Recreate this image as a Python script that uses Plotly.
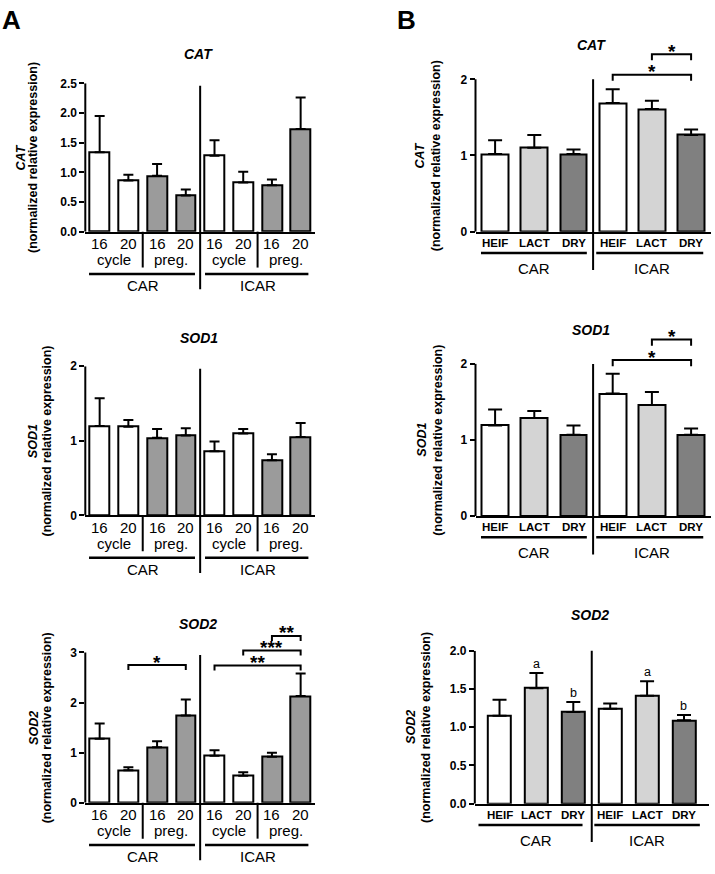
import plotly.graph_objects as go

W, H = 715, 874
FONT = "Liberation Sans, Arial, sans-serif"

# ---------------- data ----------------
A_dpo = ["16", "20", "16", "20", "16", "20", "16", "20"]
A_state = ["cycle", "preg.", "cycle", "preg."]
A_groups = ["CAR", "ICAR"]
A_colors = ["white", "white", "#9b9b9b", "#9b9b9b"] * 2

A_CAT_mean = [1.34, 0.86, 0.94, 0.61, 1.28, 0.83, 0.78, 1.73]
A_CAT_err = [0.61, 0.10, 0.20, 0.10, 0.26, 0.18, 0.10, 0.53]
A_SOD1_mean = [1.20, 1.19, 1.04, 1.07, 0.86, 1.10, 0.74, 1.05]
A_SOD1_err = [0.37, 0.09, 0.12, 0.10, 0.13, 0.06, 0.08, 0.19]
A_SOD2_mean = [1.28, 0.65, 1.11, 1.74, 0.94, 0.54, 0.92, 2.13]
A_SOD2_err = [0.30, 0.06, 0.12, 0.32, 0.11, 0.07, 0.08, 0.45]
A_SOD2_sig = [(1, 3, "*"), (4, 7, "**"), (5, 7, "***"), (6, 7, "**")]

B_cats = ["HEIF", "LACT", "DRY", "HEIF", "LACT", "DRY"]
B_groups = ["CAR", "ICAR"]
B_colors = ["white", "#d4d4d4", "#808080"] * 2

B_CAT_mean = [1.02, 1.10, 1.02, 1.69, 1.61, 1.27]
B_CAT_err = [0.18, 0.17, 0.06, 0.18, 0.11, 0.07]
B_CAT_sig = [(3, 5, "*"), (4, 5, "*")]
B_SOD1_mean = [1.19, 1.29, 1.07, 1.61, 1.46, 1.07]
B_SOD1_err = [0.21, 0.09, 0.12, 0.26, 0.17, 0.08]
B_SOD1_sig = [(3, 5, "*"), (4, 5, "*")]
B_SOD2_mean = [1.15, 1.51, 1.20, 1.24, 1.41, 1.09]
B_SOD2_err = [0.21, 0.20, 0.13, 0.07, 0.19, 0.07]
B_SOD2_letters = ["", "a", "b", "", "a", "b"]

# ---------------- helpers ----------------
def py(p):
    return 1 - p / H

def px(p):
    return p / W

panels = [
    dict(kind="A", gene="CAT", mean=A_CAT_mean, err=A_CAT_err, sig=[], sigy=[],
         x0=85.3, x1=315.0, xr=[-0.5, 7.5], y0=228.3, unit=60.3, axmax=2.5, ytop=2.5,
         ticks=[0, 0.5, 1.0, 1.5, 2.0, 2.5], fmt=".1f", title=(198, 48), ytx=(21, 33.5)),
    dict(kind="A", gene="SOD1", mean=A_SOD1_mean, err=A_SOD1_err, sig=[], sigy=[],
         x0=85.3, x1=315.0, xr=[-0.5, 7.5], y0=516.7, unit=75.8, axmax=2, ytop=2,
         ticks=[0, 1, 2], fmt="d", title=(198.7, 336.7), ytx=(33.3, 46.7)),
    dict(kind="A", gene="SOD2", mean=A_SOD2_mean, err=A_SOD2_err, sig=A_SOD2_sig,
         sigy=[2.75, 2.74, 3.04, 3.33], drop=0.1,
         x0=85.3, x1=315.0, xr=[-0.5, 7.5], y0=808.7, unit=50.9, axmax=3, ytop=3.6,
         ticks=[0, 1, 2, 3], fmt="d", title=(198, 626.7), ytx=(33.3, 46.7)),
    dict(kind="B", gene="CAT", mean=B_CAT_mean, err=B_CAT_err, sig=B_CAT_sig,
         sigy=[2.06, 2.33], drop=0.08,
         x0=475.5, x1=710.7, xr=[-0.5, 5.5], y0=228.3, unit=77.4, axmax=2, ytop=2.55,
         ticks=[0, 1, 2], fmt="d", title=(591, 38.3), ytx=(420, 436.7)),
    dict(kind="B", gene="SOD1", mean=B_SOD1_mean, err=B_SOD1_err, sig=B_SOD1_sig,
         sigy=[2.05, 2.32], drop=0.08,
         x0=475.5, x1=710.7, xr=[-0.5, 5.5], y0=517.3, unit=77.3, axmax=2, ytop=2.55,
         ticks=[0, 1, 2], fmt="d", title=(591, 328.3), ytx=(421.7, 437.7)),
    dict(kind="B", gene="SOD2", mean=B_SOD2_mean, err=B_SOD2_err, sig=[], sigy=[],
         letters=B_SOD2_letters,
         x0=474.8, x1=708.7, xr=[-0.67, 5.67], y0=809.7, unit=77.75, axmax=2, ytop=2.0,
         ticks=[0, 0.5, 1.0, 1.5, 2.0], fmt=".1f", title=(590, 618.3), ytx=(411.7, 426.7)),
]

fig = go.Figure()
layout = {}
shapes = []
annos = []

def line(xref, yref, x0, y0, x1, y1, w=2):
    shapes.append(dict(type="line", xref=xref, yref=yref, x0=x0, y0=y0, x1=x1, y1=y1,
                       line=dict(color="black", width=w)))

def text(xref, yref, x, y, t, size, xanchor="center", yanchor="middle", angle=0, yshift=0):
    annos.append(dict(xref=xref, yref=yref, x=x, y=y, text=t, showarrow=False,
                      xanchor=xanchor, yanchor=yanchor, textangle=angle, yshift=yshift,
                      font=dict(family=FONT, size=size, color="black")))

for i, p in enumerate(panels):
    s = "" if i == 0 else str(i + 1)
    xa, ya = "x" + s, "y" + s
    n = len(p["mean"])
    ytop_px = p["y0"] - p["ytop"] * p["unit"]
    axtop_px = p["y0"] - p["axmax"] * p["unit"]
    layout["xaxis" + s] = dict(domain=[px(p["x0"]), px(p["x1"])], range=p["xr"], anchor=ya,
                               showline=True, linecolor="black", linewidth=2, ticks="",
                               showticklabels=False, showgrid=False, zeroline=False)
    layout["yaxis" + s] = dict(domain=[py(p["y0"]), py(ytop_px)], range=[0, p["ytop"]], anchor=xa,
                               showline=False, ticks="outside", ticklen=5, tickwidth=2,
                               tickcolor="black", tickvals=p["ticks"], tickformat=p["fmt"],
                               tickfont=dict(family=FONT, size=12, color="black", weight="bold"),
                               showgrid=False, zeroline=False)
    if p["kind"] == "A":
        colors, width, capw = A_colors, 0.69, 5
    else:
        colors = B_colors
        width = 0.68 if p["xr"][0] == -0.5 else 0.62
        capw = 7
    fig.add_trace(go.Bar(
        x=list(range(n)), y=p["mean"], width=width, xaxis=xa, yaxis=ya,
        marker=dict(color=colors, line=dict(color="black", width=2)),
        error_y=dict(type="data", array=p["err"], arrayminus=[0] * n, symmetric=False,
                     color="black", thickness=2, width=capw),
        hoverinfo="skip"))

    # y axis line
    line(xa + " domain", ya, 0, 0, 0, p["axmax"])
    # divider
    mid = (n - 1) / 2
    if p["kind"] == "A":
        line(xa, "paper", mid, py(axtop_px + 2.5), mid, py(p["y0"] + 58.5))
        for k, lab in enumerate(A_dpo):
            text(xa, "paper", k, py(p["y0"] + 12), lab, 15)
        for k, lab in enumerate(A_state):
            text(xa, "paper", 2 * k + 0.5, py(p["y0"] + 28.5), lab, 15)
        for k, lab in enumerate(A_groups):
            text(xa, "paper", 4 * k + 1.5, py(p["y0"] + 55), lab, 15)
        text(xa, "paper", 8.02, py(p["y0"] + 12), "<i>dpo</i>", 12)
        for sx in (1.5, 5.5):
            line(xa, "paper", sx, py(p["y0"]), sx, py(p["y0"] + 36.5))
        line(xa, "paper", -0.37, py(p["y0"] + 43), 3.32, py(p["y0"] + 43), 2.5)
        line(xa, "paper", 3.67, py(p["y0"] + 43), 7.27, py(p["y0"] + 43), 2.5)
    else:
        line(xa, "paper", mid, py(axtop_px), mid, py(p["y0"] + 39))
        for k, lab in enumerate(B_cats):
            text(xa, "paper", k, py(p["y0"] + 11.5), "<b>%s</b>" % lab, 11.5)
        for k, lab in enumerate(B_groups):
            text(xa, "paper", 3 * k + 1, py(p["y0"] + 37), lab, 15)
        if p["xr"][0] == -0.5:
            segs = [(-0.36, 2.34), (2.58, 5.31)]
        else:
            segs = [(-0.57, 2.25), (2.57, 5.43)]
        for a, b in segs:
            line(xa, "paper", a, py(p["y0"] + 21.7), b, py(p["y0"] + 21.7), 2.5)
    # significance brackets
    for (a, b, lab), yv in zip(p["sig"], p["sigy"]):
        d = p["drop"]
        shapes.append(dict(type="path", xref=xa, yref=ya,
                           path="M %g %g L %g %g L %g %g L %g %g" % (a, yv - d, a, yv, b, yv, b, yv - d),
                           line=dict(color="black", width=2)))
        text(xa, ya, (a + b) / 2, yv, "<b>%s</b>" % lab, 19, yshift=3)
    if "letters" in p:
        for k, lab in enumerate(p["letters"]):
            if lab:
                text(xa, ya, k, p["mean"][k] + p["err"][k], lab, 12.5, yanchor="bottom")
    # titles
    tx, ty = p["title"]
    text("paper", "paper", px(tx), py(ty), "<b><i>%s</i></b>" % p["gene"], 14)
    gx, nx = p["ytx"]
    ymid = py((p["y0"] + axtop_px) / 2)
    text("paper", "paper", px(gx), ymid, "<b><i>%s</i></b>" % p["gene"], 12.5, angle=-90)
    text("paper", "paper", px(nx), ymid, "<b>(normalized relative expression)</b>", 12.5, angle=-90)

text("paper", "paper", px(11.5), py(13), "<b>A</b>", 26)
text("paper", "paper", px(406), py(13), "<b>B</b>", 26)

fig.update_layout(**layout)
fig.update_layout(width=W, height=H, margin=dict(l=0, r=0, t=0, b=0),
                  paper_bgcolor="white", plot_bgcolor="white", showlegend=False,
                  bargap=0, shapes=shapes, annotations=annos,
                  font=dict(family=FONT, color="black"))
fig.write_html("out.html", config={"displayModeBar": False},
               post_script="document.body.style.margin='0';document.body.style.overflow='hidden';")
